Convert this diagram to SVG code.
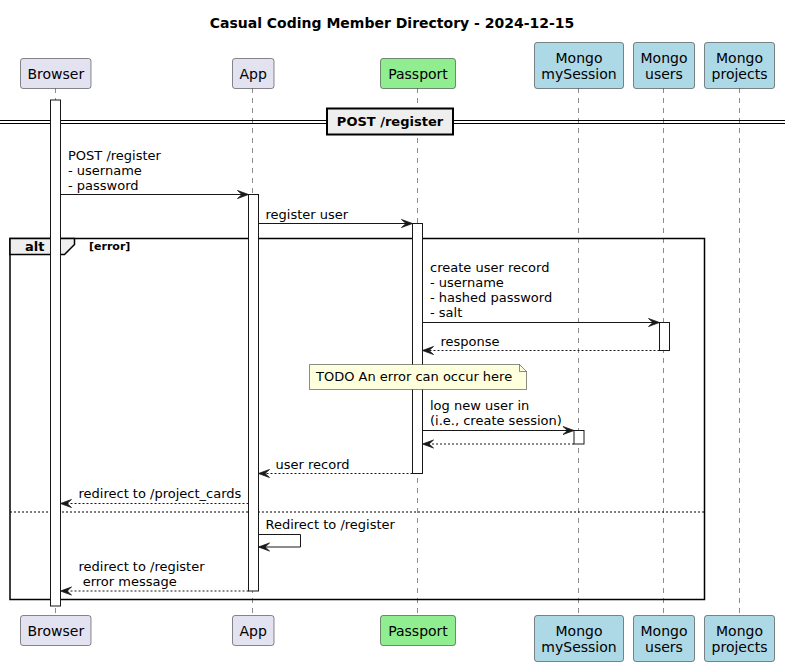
<svg xmlns="http://www.w3.org/2000/svg" width="785" height="667" viewBox="0 0 785 667">
<defs>
<style>
text{font-family:"DejaVu Sans","Liberation Sans",sans-serif;fill:#000}
.title{font-size:14px;font-weight:bold}
.pn{font-size:14px;text-anchor:middle;fill:#000}
.msg{font-size:13px}
.part{stroke:#181818;stroke-width:0.5}
.def{fill:#E2E2F0}
.pp{fill:#90EE90}
.mg{fill:#ADD8E6}
.life{stroke:#181818;stroke-width:0.5;stroke-dasharray:5,5;fill:none}
.act{fill:#FFFFFF;stroke:#181818;stroke-width:1}
.ln{stroke:#181818;stroke-width:1;fill:none}
.dash{stroke-dasharray:2,2}
</style>
<marker id="ah" markerUnits="userSpaceOnUse" markerWidth="14" markerHeight="12" refX="11.5" refY="5" orient="auto" viewBox="0 0 14 12">
<path d="M0.5,1 L11.5,5 L0.5,9 L5,5 Z" fill="#181818" stroke="#181818" stroke-width="0.8" stroke-linejoin="miter"/>
</marker>
</defs>
<rect width="785" height="667" fill="#FFFFFF"/>
<text class="title" x="392" y="28" text-anchor="middle">Casual Coding Member Directory - 2024-12-15</text>

<g id="lifelines">
<line class="life" x1="55.5" y1="88" x2="55.5" y2="616"/>
<line class="life" x1="252.5" y1="88" x2="252.5" y2="616"/>
<line class="life" x1="417.5" y1="88" x2="417.5" y2="616"/>
<line class="life" x1="578.5" y1="88" x2="578.5" y2="615"/>
<line class="life" x1="663.5" y1="88" x2="663.5" y2="615"/>
<line class="life" x1="739.5" y1="88" x2="739.5" y2="615"/>
</g>

<g id="divider">
<line x1="0" y1="120.5" x2="785" y2="120.5" stroke="#000" stroke-width="1"/>
<line x1="0" y1="123.5" x2="785" y2="123.5" stroke="#000" stroke-width="1"/>
<rect x="327" y="108.5" width="126" height="26" fill="#EEEEEE" stroke="#000" stroke-width="2"/>
<text x="390" y="126" font-size="13" font-weight="bold" text-anchor="middle">POST /register</text>
</g>

<g id="alt-frame">
<rect x="10" y="238.5" width="694.5" height="361" fill="none" stroke="#000" stroke-width="1.5"/>
<path d="M10,238.5 L74.5,238.5 L74.5,244.5 L64.5,254.5 L10,254.5 Z" fill="#EEEEEE" stroke="#000" stroke-width="1.5"/>
<text x="25" y="251" font-size="13" font-weight="bold">alt</text>
<text x="89" y="250" font-size="11" font-weight="bold">[error]</text>
<line x1="10" y1="512" x2="704.5" y2="512" stroke="#000" stroke-width="1" stroke-dasharray="2,2"/>
</g>

<g id="activations">
<rect class="act" x="50.5" y="100" width="10" height="506"/>
<rect class="act" x="248.5" y="194.5" width="10" height="396.5"/>
<rect class="act" x="412.5" y="223.5" width="10" height="250"/>
<rect class="act" x="659.5" y="322.5" width="10" height="28"/>
<rect class="act" x="574" y="430.5" width="10" height="13.5"/>
</g>

<g id="connectors">
<line class="ln" x1="60.5" y1="194.5" x2="248.5" y2="194.5" marker-end="url(#ah)"/>
<line class="ln" x1="258.5" y1="223.5" x2="412.5" y2="223.5" marker-end="url(#ah)"/>
<line class="ln" x1="422.5" y1="322.5" x2="659.5" y2="322.5" marker-end="url(#ah)"/>
<line class="ln dash" x1="659.5" y1="350.5" x2="422.5" y2="350.5" marker-end="url(#ah)"/>
<line class="ln" x1="422.5" y1="430.5" x2="574" y2="430.5" marker-end="url(#ah)"/>
<line class="ln dash" x1="574" y1="444" x2="422.5" y2="444" marker-end="url(#ah)"/>
<line class="ln dash" x1="412.5" y1="473.5" x2="258.5" y2="473.5" marker-end="url(#ah)"/>
<line class="ln dash" x1="248.5" y1="503.5" x2="60.5" y2="503.5" marker-end="url(#ah)"/>
<polyline class="ln" points="258.5,534.5 300.5,534.5 300.5,547 258.5,547" marker-end="url(#ah)"/>
<line class="ln dash" x1="248.5" y1="591" x2="60.5" y2="591" marker-end="url(#ah)"/>
</g>

<g id="labels">
<text class="msg" x="68" y="159.5">POST /register</text>
<text class="msg" x="68" y="174.5">- username</text>
<text class="msg" x="68" y="189.5">- password</text>
<text class="msg" x="265.5" y="218.5">register user</text>
<text class="msg" x="430" y="271.5">create user record</text>
<text class="msg" x="430" y="286.5">- username</text>
<text class="msg" x="430" y="301.5">- hashed password</text>
<text class="msg" x="430" y="316.5">- salt</text>
<text class="msg" x="440.5" y="346">response</text>
<text class="msg" x="430" y="410">log new user in</text>
<text class="msg" x="430" y="425">(i.e., create session)</text>
<text class="msg" x="275.5" y="469">user record</text>
<text class="msg" x="78.5" y="497.5">redirect to /project_cards</text>
<text class="msg" x="265.5" y="529">Redirect to /register</text>
<text class="msg" x="78.5" y="570.5">redirect to /register</text>
<text class="msg" x="78.5" y="585.5" xml:space="preserve"> error message</text>
</g>

<g id="note">
<path d="M309.5,364.5 L519.5,364.5 L526.5,371.5 L526.5,389.5 L309.5,389.5 Z" fill="#FEFFDD" stroke="#181818" stroke-width="0.5"/>
<path d="M519.5,364.5 L519.5,371.5 L526.5,371.5" fill="none" stroke="#181818" stroke-width="0.5"/>
<text class="msg" x="316" y="381">TODO An error can occur here</text>
</g>

<g id="p-browser">
<rect class="part def" x="20.5" y="58.5" width="70.5" height="30" rx="2.5"/>
<text class="pn" x="55.8" y="79">Browser</text>
<rect class="part def" x="20.5" y="615.5" width="70.5" height="30" rx="2.5"/>
<text class="pn" x="55.8" y="636">Browser</text>
</g>
<g id="p-app">
<rect class="part def" x="232.5" y="58.5" width="41.5" height="30" rx="2.5"/>
<text class="pn" x="253.2" y="79">App</text>
<rect class="part def" x="232.5" y="615.5" width="41.5" height="30" rx="2.5"/>
<text class="pn" x="253.2" y="636">App</text>
</g>
<g id="p-passport">
<rect class="part pp" x="380.5" y="58.5" width="75" height="30" rx="2.5"/>
<text class="pn" x="418" y="79">Passport</text>
<rect class="part pp" x="380.5" y="615.5" width="75" height="30" rx="2.5"/>
<text class="pn" x="418" y="636">Passport</text>
</g>
<g id="p-mysession">
<rect class="part mg" x="534.5" y="42.5" width="89" height="46" rx="2.5"/>
<text class="pn" x="579" y="62.5">Mongo</text>
<text class="pn" x="579" y="79">mySession</text>
<rect class="part mg" x="534.5" y="615.5" width="89" height="46" rx="2.5"/>
<text class="pn" x="579" y="635.5">Mongo</text>
<text class="pn" x="579" y="652">mySession</text>
</g>
<g id="p-users">
<rect class="part mg" x="633.5" y="42.5" width="61" height="46" rx="2.5"/>
<text class="pn" x="664" y="62.5">Mongo</text>
<text class="pn" x="664" y="79">users</text>
<rect class="part mg" x="633.5" y="615.5" width="61" height="46" rx="2.5"/>
<text class="pn" x="664" y="635.5">Mongo</text>
<text class="pn" x="664" y="652">users</text>
</g>
<g id="p-projects">
<rect class="part mg" x="704.5" y="42.5" width="70" height="46" rx="2.5"/>
<text class="pn" x="739.5" y="62.5">Mongo</text>
<text class="pn" x="739.5" y="79">projects</text>
<rect class="part mg" x="704.5" y="615.5" width="70" height="46" rx="2.5"/>
<text class="pn" x="739.5" y="635.5">Mongo</text>
<text class="pn" x="739.5" y="652">projects</text>
</g>
</svg>
